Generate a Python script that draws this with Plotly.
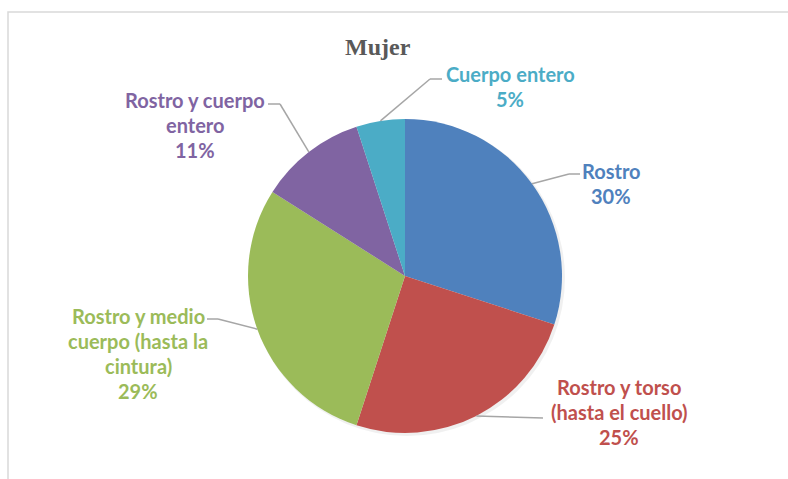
import math
import plotly.graph_objects as go

# ---- data ----
categories = ["Rostro", "Rostro y torso (hasta el cuello)", "Rostro y medio cuerpo (hasta la cintura)",
              "Rostro y cuerpo entero", "Cuerpo entero"]
values = [30, 25, 29, 11, 5]
label_lines = [["Rostro"], ["Rostro y torso", "(hasta el cuello)"],
               ["Rostro y medio", "cuerpo (hasta la", "cintura)"],
               ["Rostro y cuerpo", "entero"], ["Cuerpo entero"]]
colors = ["#4F81BD", "#C0504D", "#9BBB59", "#8064A2", "#4BACC6"]
title = "Mujer"

# ---- layout constants (pixels) ----
W, H = 788, 479
CX, CY, R = 405, 276, 157
# label anchor (center x, first line y), leader elbow and end
label_pos = [(611, 171), (619, 387), (138, 316), (195, 100), (510, 74)]
elbows = [((569, 174), (580, 174)), ((543, 418), (543, 418)), ((218, 319), (207, 319)),
          ((280, 104), (268, 104)), ((430, 79), (442, 79))]
LINE_H = 25

def px(x):
    return x / W

def py(y):
    return 1 - y / H

fig = go.Figure()
# soft shadow
fig.add_trace(go.Pie(
    values=[sum(values)], sort=False, marker=dict(colors=["rgba(0,0,0,0.06)"], line=dict(width=0)),
    textinfo="none", hoverinfo="skip", showlegend=False,
    domain=dict(x=[px(CX - R + 1), px(CX + R + 3)], y=[py(CY + R + 3), py(CY - R + 1)]),
))
fig.add_trace(go.Pie(
    values=values, labels=categories, sort=False, direction="clockwise", rotation=0,
    marker=dict(colors=colors, line=dict(width=0)),
    textinfo="none", hoverinfo="label+percent", showlegend=False,
    domain=dict(x=[px(CX - R), px(CX + R)], y=[py(CY + R), py(CY - R)]),
))

total = sum(values)
annotations = []
shapes = []
cum = 0
for i, v in enumerate(values):
    mid = 90 - 360 * (cum + v / 2) / total
    cum += v
    sx = CX + R * math.cos(math.radians(mid))
    sy = CY - R * math.sin(math.radians(mid))
    (ex1, ey1), (ex2, ey2) = elbows[i]
    for (a, b), (c, d) in [((sx, sy), (ex1, ey1)), ((ex1, ey1), (ex2, ey2))]:
        if (a, b) != (c, d):
            shapes.append(dict(type="line", xref="paper", yref="paper",
                               x0=px(a), y0=py(b), x1=px(c), y1=py(d),
                               line=dict(color="#A6A6A6", width=1.5)))
    lx, ly = label_pos[i]
    lines = label_lines[i] + [f"{round(100 * v / total)}%"]
    for k, t in enumerate(lines):
        annotations.append(dict(
            text=f"<b>{t}</b>", x=px(lx), y=py(ly + k * LINE_H), xref="paper", yref="paper",
            showarrow=False, xanchor="center", yanchor="middle",
            font=dict(family="Lato", size=20, color=colors[i])))

annotations.append(dict(text=f"<b>{title}</b>", x=px(378), y=py(47), xref="paper", yref="paper",
                        showarrow=False, xanchor="center", yanchor="middle",
                        font=dict(family="Liberation Serif", size=24, color="#595959")))

shapes.append(dict(type="rect", xref="paper", yref="paper", x0=px(8), y0=-0.05, x1=1.05, y1=py(12),
                   line=dict(color="#D9D9D9", width=1.5), fillcolor="rgba(0,0,0,0)", layer="below"))

fig.update_layout(width=W, height=H, margin=dict(l=0, r=0, t=0, b=0),
                  paper_bgcolor="white", plot_bgcolor="white",
                  annotations=annotations, shapes=shapes)
fig.write_html("out.html", config={"displayModeBar": False},
               post_script="document.body.style.margin='0';")
